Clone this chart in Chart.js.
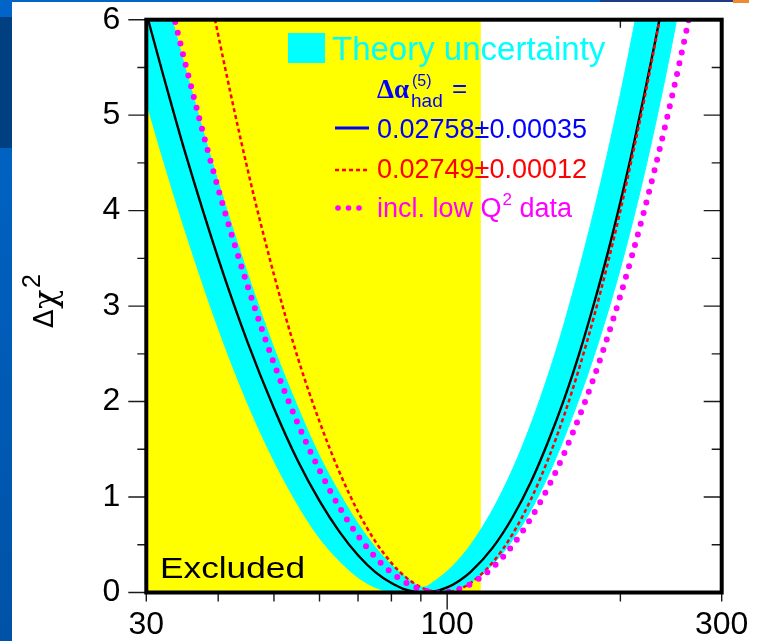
<!DOCTYPE html>
<html>
<head>
<meta charset="utf-8">
<title>Δχ² versus Higgs mass</title>
<script src="https://cdn.jsdelivr.net/npm/chart.js@4/dist/chart.umd.min.js"></script>
<style>
  html, body { margin:0; padding:0; width:769px; height:641px; overflow:hidden; background:#fff; }
  .deco { position:absolute; }
  #plot { position:absolute; left:0; top:0; }
</style>
</head>
<body>
<div class="deco" style="left:0;top:0;width:12px;height:641px;background:linear-gradient(to bottom,#0064c8 0px,#0064c8 17px,#003f80 17px,#003f80 148px,#0062c2 148px,#0052a6 641px);"></div>
<div class="deco" style="left:12px;top:0;width:590px;height:2px;background:#0064c8;"></div>
<div class="deco" style="left:600px;top:0;width:133px;height:2px;background:#1f3a80;"></div>
<div class="deco" style="left:733px;top:0;width:16px;height:3px;background:#f08a30;"></div>
<canvas id="plot" width="769" height="641"></canvas>
<script>
// Higgs mass (GeV) and Δχ² of the electroweak fit, Δα_had = 0.02758 ± 0.00035
const massFit = [30, 32, 33, 35, 40, 45, 50, 55, 60, 65, 70, 75, 80, 85, 91, 95, 100, 105, 110, 120, 130, 140, 150, 160, 170, 180, 190, 200, 210, 220, 230, 240];
const chi2Fit = [6.07, 5.45, 5.16, 4.62, 3.50, 2.62, 1.93, 1.38, 0.96, 0.635, 0.39, 0.214, 0.10, 0.027, 0, 0.011, 0.053, 0.124, 0.219, 0.47, 0.791, 1.166, 1.59, 2.038, 2.52, 3.03, 3.55, 4.09, 4.64, 5.21, 5.78, 6.35];

// theory uncertainty band (lower / upper edge)
const massBand = [30, 32, 35, 40, 45, 50, 55, 60, 65, 70, 75, 80, 85, 91, 95, 100, 105, 110, 120, 130, 140, 150, 160, 180, 200, 220, 240, 260];
const chi2BandLow = [5.14, 4.56, 3.80, 2.77, 1.98, 1.38, 0.92, 0.57, 0.33, 0.158, 0.054, 0.006, 0, 0, 0, 0.008, 0.044, 0.105, 0.293, 0.552, 0.868, 1.231, 1.631, 2.48, 3.395, 4.383, 5.43, 6.51];
const chi2BandHigh = [7.05, 6.39, 5.51, 4.30, 3.34, 2.56, 1.94, 1.43, 1.04, 0.72, 0.475, 0.29, 0.157, 0.056, 0.118, 0.222, 0.352, 0.505, 0.869, 1.295, 1.772, 2.288, 2.834, 4.00, 5.22, 6.49, 7.78, 9.0];

// Δα_had = 0.02749 ± 0.00012
const massAlt = [38, 40, 45, 50, 55, 60, 65, 70, 75, 80, 85, 90, 95, 98, 100, 105, 110, 120, 130, 140, 150, 160, 170, 180, 190, 200, 210, 220, 230, 240];
const chi2Alt = [6.51, 5.84, 4.43, 3.33, 2.46, 1.79, 1.26, 0.846, 0.536, 0.310, 0.153, 0.055, 0.007, 0, 0.003, 0.036, 0.102, 0.315, 0.615, 0.983, 1.406, 1.870, 2.37, 2.893, 3.44, 4.00, 4.58, 5.16, 5.76, 6.36];

// including low-Q² data
const massLowQ2 = [33, 35, 40, 45, 50, 55, 60, 65, 70, 75, 80, 85, 90, 97, 100, 105, 110, 120, 130, 140, 150, 160, 180, 200, 220, 240, 260, 280];
const chi2LowQ2 = [6.20, 5.56, 4.23, 3.21, 2.40, 1.77, 1.28, 0.891, 0.594, 0.371, 0.209, 0.099, 0.032, 0, 0.005, 0.036, 0.091, 0.261, 0.496, 0.783, 1.110, 1.468, 2.256, 3.108, 4.00, 4.92, 5.86, 6.80];

// direct search limit (GeV)
const directSearchLimit = 114.4;

const xTickValues = [30, 40, 50, 60, 70, 80, 90, 100, 200, 300];
const xTickLabels = [30, 100, 300];
const yTickValues = [0, 0.5, 1, 1.5, 2, 2.5, 3, 3.5, 4, 4.5, 5, 5.5, 6];
const yTickLabels = [0, 1, 2, 3, 4, 5, 6];

const pts = (xs, ys) => xs.map((m, i) => ({ x: m, y: ys[i] }));

const SANS = '"Liberation Sans", Arial, sans-serif';
const SERIF = '"Liberation Serif", "Times New Roman", serif';

const axisDecor = {
  id: 'axisDecor',
  beforeDatasetsDraw(chart) {
    const { ctx, chartArea: a, scales: { x, y } } = chart;
    ctx.save();
    // inward ticks on the top and right edges
    ctx.strokeStyle = '#1a1a1a';
    ctx.lineWidth = 1.4;
    ctx.beginPath();
    xTickValues.forEach(v => {
      const px = x.getPixelForValue(v);
      const len = v === 100 ? 17 : 8;
      ctx.moveTo(px, a.top); ctx.lineTo(px, a.top + len);
    });
    yTickValues.forEach(v => {
      const py = y.getPixelForValue(v);
      const len = Number.isInteger(v) ? 18 : 10;
      ctx.moveTo(a.right, py); ctx.lineTo(a.right - len, py);
    });
    ctx.stroke();
    // excluded region
    ctx.fillStyle = '#ffff00';
    const xe = x.getPixelForValue(directSearchLimit);
    ctx.fillRect(a.left, a.top, xe - a.left, a.bottom - a.top);
    ctx.restore();
  },
  afterDatasetsDraw(chart) {
    const { ctx, chartArea: a, scales: { x, y } } = chart;
    ctx.save();
    // outward ticks on left and bottom
    ctx.strokeStyle = '#1a1a1a';
    ctx.lineWidth = 1.4;
    ctx.beginPath();
    yTickValues.forEach(v => {
      const py = y.getPixelForValue(v);
      const len = Number.isInteger(v) ? 18 : 9;
      ctx.moveTo(a.left, py); ctx.lineTo(a.left - len, py);
    });
    xTickValues.forEach(v => {
      const px = x.getPixelForValue(v);
      const len = v === 100 ? 17 : 9;
      ctx.moveTo(px, a.bottom); ctx.lineTo(px, a.bottom + len);
    });
    ctx.stroke();
    // frame
    ctx.strokeStyle = '#000';
    ctx.lineWidth = 4;
    ctx.strokeRect(a.left, a.top, a.right - a.left, a.bottom - a.top);

    // "Excluded"
    ctx.fillStyle = '#000';
    ctx.font = '29px ' + SANS;
    ctx.textBaseline = 'alphabetic';
    ctx.textAlign = 'left';
    const w = ctx.measureText('Excluded').width;
    ctx.save();
    ctx.translate(160, 578);
    ctx.scale(145 / w, 1);
    ctx.fillText('Excluded', 0, 0);
    ctx.restore();

    // legend
    ctx.fillStyle = '#00ffff';
    ctx.fillRect(288, 33, 37, 30);
    ctx.font = '33px ' + SANS;
    ctx.fillText('Theory uncertainty', 332, 60);

    ctx.fillStyle = '#0000ff';
    ctx.font = 'bold 27px ' + SERIF;
    ctx.fillText('Δα', 377, 98);
    ctx.font = '16px ' + SANS;
    ctx.fillText('(5)', 412, 86);
    ctx.font = '19px ' + SANS;
    ctx.fillText('had', 411, 107);
    ctx.font = '26px ' + SANS;
    ctx.fillText('=', 452, 97);

    ctx.strokeStyle = '#0000ff';
    ctx.lineWidth = 3;
    ctx.beginPath(); ctx.moveTo(335, 128); ctx.lineTo(369, 128); ctx.stroke();
    ctx.font = '27px ' + SANS;
    ctx.fillText('0.02758±0.00035', 377, 138);

    ctx.strokeStyle = '#ff0000';
    ctx.lineWidth = 2.5;
    ctx.setLineDash([4, 3]);
    ctx.beginPath(); ctx.moveTo(335, 170); ctx.lineTo(369, 170); ctx.stroke();
    ctx.setLineDash([]);
    ctx.fillStyle = '#ff0000';
    ctx.fillText('0.02749±0.00012', 377, 178);

    ctx.fillStyle = '#ff00ff';
    [338, 348.5, 359].forEach(cx => { ctx.beginPath(); ctx.arc(cx, 208, 2.8, 0, Math.PI * 2); ctx.fill(); });
    ctx.font = '27px ' + SANS;
    ctx.fillText('incl. low Q', 377, 217);
    let tx = 377 + ctx.measureText('incl. low Q').width + 1;
    ctx.font = '17px ' + SANS;
    ctx.fillText('2', tx, 205);
    tx += ctx.measureText('2').width;
    ctx.font = '27px ' + SANS;
    ctx.fillText(' data', tx, 217);

    // y axis title, reading upwards
    ctx.save();
    ctx.translate(53, 328);
    ctx.rotate(-Math.PI / 2);
    ctx.fillStyle = '#000';
    ctx.font = '27px "DejaVu Sans", sans-serif';
    ctx.fillText('Δ', 0, 0);
    ctx.font = '32px "DejaVu Serif", serif';
    ctx.fillText('χ', 19, 3);
    ctx.font = '25px ' + SANS;
    ctx.fillText('2', 40, -13);
    ctx.restore();

    ctx.restore();
  }
};

new Chart(document.getElementById('plot'), {
  type: 'line',
  data: {
    datasets: [
      {
        label: 'incl. low Q² data',
        data: pts(massLowQ2, chi2LowQ2),
        borderColor: '#ff00ff',
        borderWidth: 6,
        borderDash: [0, 11],
        borderCapStyle: 'round',
        pointRadius: 0,
        cubicInterpolationMode: 'monotone',
        fill: false,
        clip: 0,
        order: 0
      },
      {
        label: '0.02749±0.00012',
        data: pts(massAlt, chi2Alt),
        borderColor: '#ff0000',
        borderWidth: 2.5,
        borderDash: [4, 3],
        pointRadius: 0,
        cubicInterpolationMode: 'monotone',
        fill: false,
        clip: 0,
        order: 1
      },
      {
        label: '0.02758±0.00035',
        data: pts(massFit, chi2Fit),
        borderColor: '#000000',
        borderWidth: 2.4,
        pointRadius: 0,
        cubicInterpolationMode: 'monotone',
        fill: false,
        clip: 0,
        order: 2
      },
      {
        label: 'Theory uncertainty',
        data: pts(massBand, chi2BandHigh),
        borderColor: '#00ffff',
        borderWidth: 1,
        backgroundColor: '#00ffff',
        pointRadius: 0,
        cubicInterpolationMode: 'monotone',
        fill: '+1',
        clip: 0,
        order: 3
      },
      {
        label: 'band low',
        data: pts(massBand, chi2BandLow),
        borderColor: '#00ffff',
        borderWidth: 1,
        pointRadius: 0,
        cubicInterpolationMode: 'monotone',
        fill: false,
        clip: 0,
        order: 4
      }
    ]
  },
  options: {
    responsive: false,
    animation: false,
    devicePixelRatio: 1,
    layout: { padding: { left: 0, right: 47.3, top: 19.7, bottom: 0 } },
    plugins: { legend: { display: false }, tooltip: { enabled: false } },
    scales: {
      x: {
        type: 'logarithmic',
        min: 30,
        max: 300,
        afterBuildTicks: s => { s.ticks = xTickValues.map(v => ({ value: v })); },
        afterFit: s => { s.height = 48.5; s.paddingLeft = 0; s.paddingRight = 0; },
        grid: { display: false, drawTicks: false },
        border: { display: false },
        ticks: {
          autoSkip: false,
          maxRotation: 0,
          padding: 17,
          color: '#000',
          font: { family: SANS, size: 32, lineHeight: 1 },
          callback: v => xTickLabels.includes(v) ? String(v) : ''
        }
      },
      y: {
        type: 'linear',
        min: 0,
        max: 6,
        afterBuildTicks: s => { s.ticks = yTickValues.map(v => ({ value: v })); },
        afterFit: s => { s.width = 146.3; s.paddingTop = 0; s.paddingBottom = 0; },
        grid: { display: false, drawTicks: false },
        border: { display: false },
        ticks: {
          autoSkip: false,
          padding: 26,
          color: '#000',
          font: { family: SANS, size: 32, lineHeight: 1 },
          callback: v => yTickLabels.includes(v) ? String(v) : ''
        }
      }
    }
  },
  plugins: [axisDecor]
});
</script>
</body>
</html>
